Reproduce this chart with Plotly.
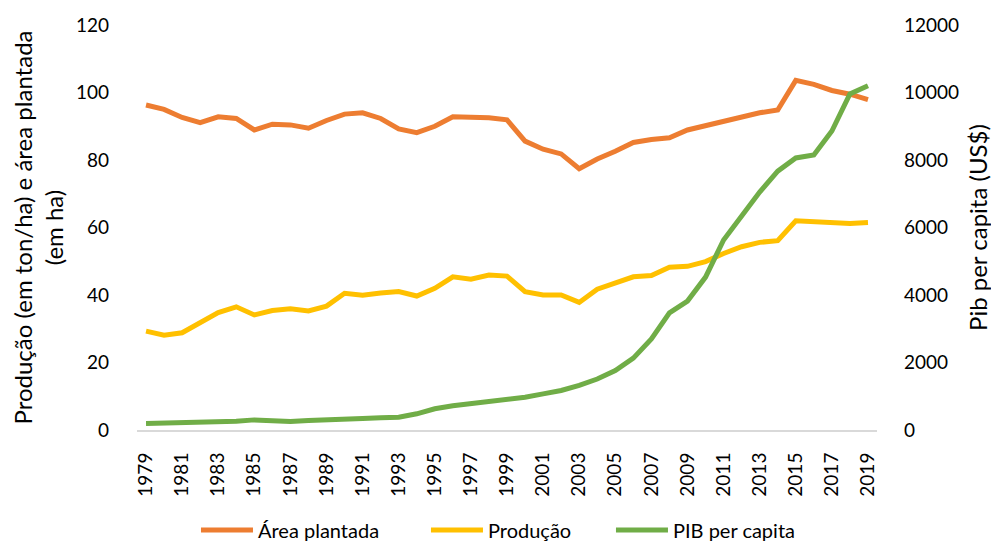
import plotly.graph_objects as go

anos = list(range(1979, 2020))

area_plantada = [96.3, 95.0, 92.6, 91.1, 92.8, 92.3, 88.9, 90.6, 90.4, 89.4,
                 91.7, 93.6, 94.0, 92.3, 89.2, 88.1, 90.0, 92.8, 92.7, 92.5,
                 91.9, 85.6, 83.2, 81.8, 77.4, 80.3, 82.6, 85.2, 86.1, 86.6,
                 88.9, 90.2, 91.4, 92.8, 94.0, 94.8, 103.6, 102.4, 100.6, 99.5, 97.9]

producao = [29.3, 28.1, 28.8, 31.8, 34.8, 36.5, 34.1, 35.4, 35.9, 35.3,
            36.7, 40.5, 39.9, 40.6, 41.0, 39.7, 42.0, 45.4, 44.7, 45.9,
            45.6, 41.0, 40.0, 40.0, 37.8, 41.7, 43.5, 45.4, 45.8, 48.2,
            48.5, 49.9, 52.3, 54.3, 55.6, 56.1, 62.0, 61.7, 61.7, 61.2, 61.5]

pib_per_capita = [190, 200, 210, 210, 240, 260, 300, 290, 250, 280,
                  310, 320, 340, 360, 380, 480, 630, 720, 780, 830,
                  880, 970, 1070, 1170, 1320, 1510, 1760, 2130, 2700, 3470,
                  3820, 4530, 5630, 6350, 7050, 7670, 8060, 8150, 8860, 9960, 10200]

tick_anos = list(range(1979, 2020, 2))
FONT = "Lato"

fig = go.Figure()
fig.add_trace(go.Scatter(x=anos, y=area_plantada, name="Área plantada", mode="lines",
                         legend="legend", line=dict(color="#ED7D31", width=5)))
fig.add_trace(go.Scatter(x=anos, y=producao, name="Produção", mode="lines",
                         legend="legend2", line=dict(color="#FFC000", width=5)))
fig.add_trace(go.Scatter(x=anos, y=pib_per_capita, name="PIB per capita", mode="lines",
                         yaxis="y2", legend="legend3", line=dict(color="#70AD47", width=5)))

leg_common = dict(orientation="h", xanchor="left", y=-0.2469, yanchor="middle",
                  font=dict(family=FONT, size=20, color="black"), itemwidth=52,
                  bgcolor="rgba(0,0,0,0)")

fig.update_layout(
    width=991, height=536,
    margin=dict(l=129, r=122, t=17, b=114, autoexpand=False),
    paper_bgcolor="white", plot_bgcolor="white",
    font=dict(family=FONT, size=19, color="black"),
    showlegend=True,
    legend=dict(x=0.0797, **leg_common),
    legend2=dict(x=0.3905, **leg_common),
    legend3=dict(x=0.6405, **leg_common),
    xaxis=dict(range=[1978.5, 2019.5], tickmode="array", tickvals=tick_anos,
               ticktext=[str(a) for a in tick_anos], tickangle=-90,
               showline=True, linecolor="#D9D9D9", linewidth=2, showgrid=False,
               zeroline=False, ticks="", ticklabelstandoff=13,
               tickfont=dict(size=19)),
    yaxis=dict(range=[0, 120], dtick=20, showgrid=False, zeroline=False,
               showline=False, ticks="", ticklabelstandoff=27, tickfont=dict(size=19),
               title=dict(text="Produção (em ton/ha) e área plantada<br>(em ha)",
                          font=dict(size=24), standoff=14)),
    yaxis2=dict(range=[0, 12000], dtick=2000, tickformat="d", overlaying="y",
                side="right", showgrid=False, zeroline=False, showline=False,
                ticks="", ticklabelstandoff=26, tickfont=dict(size=19),
                title=dict(text="Pib per capita (US$)", font=dict(size=24), standoff=12)),
)

fig.write_html("out.html")
